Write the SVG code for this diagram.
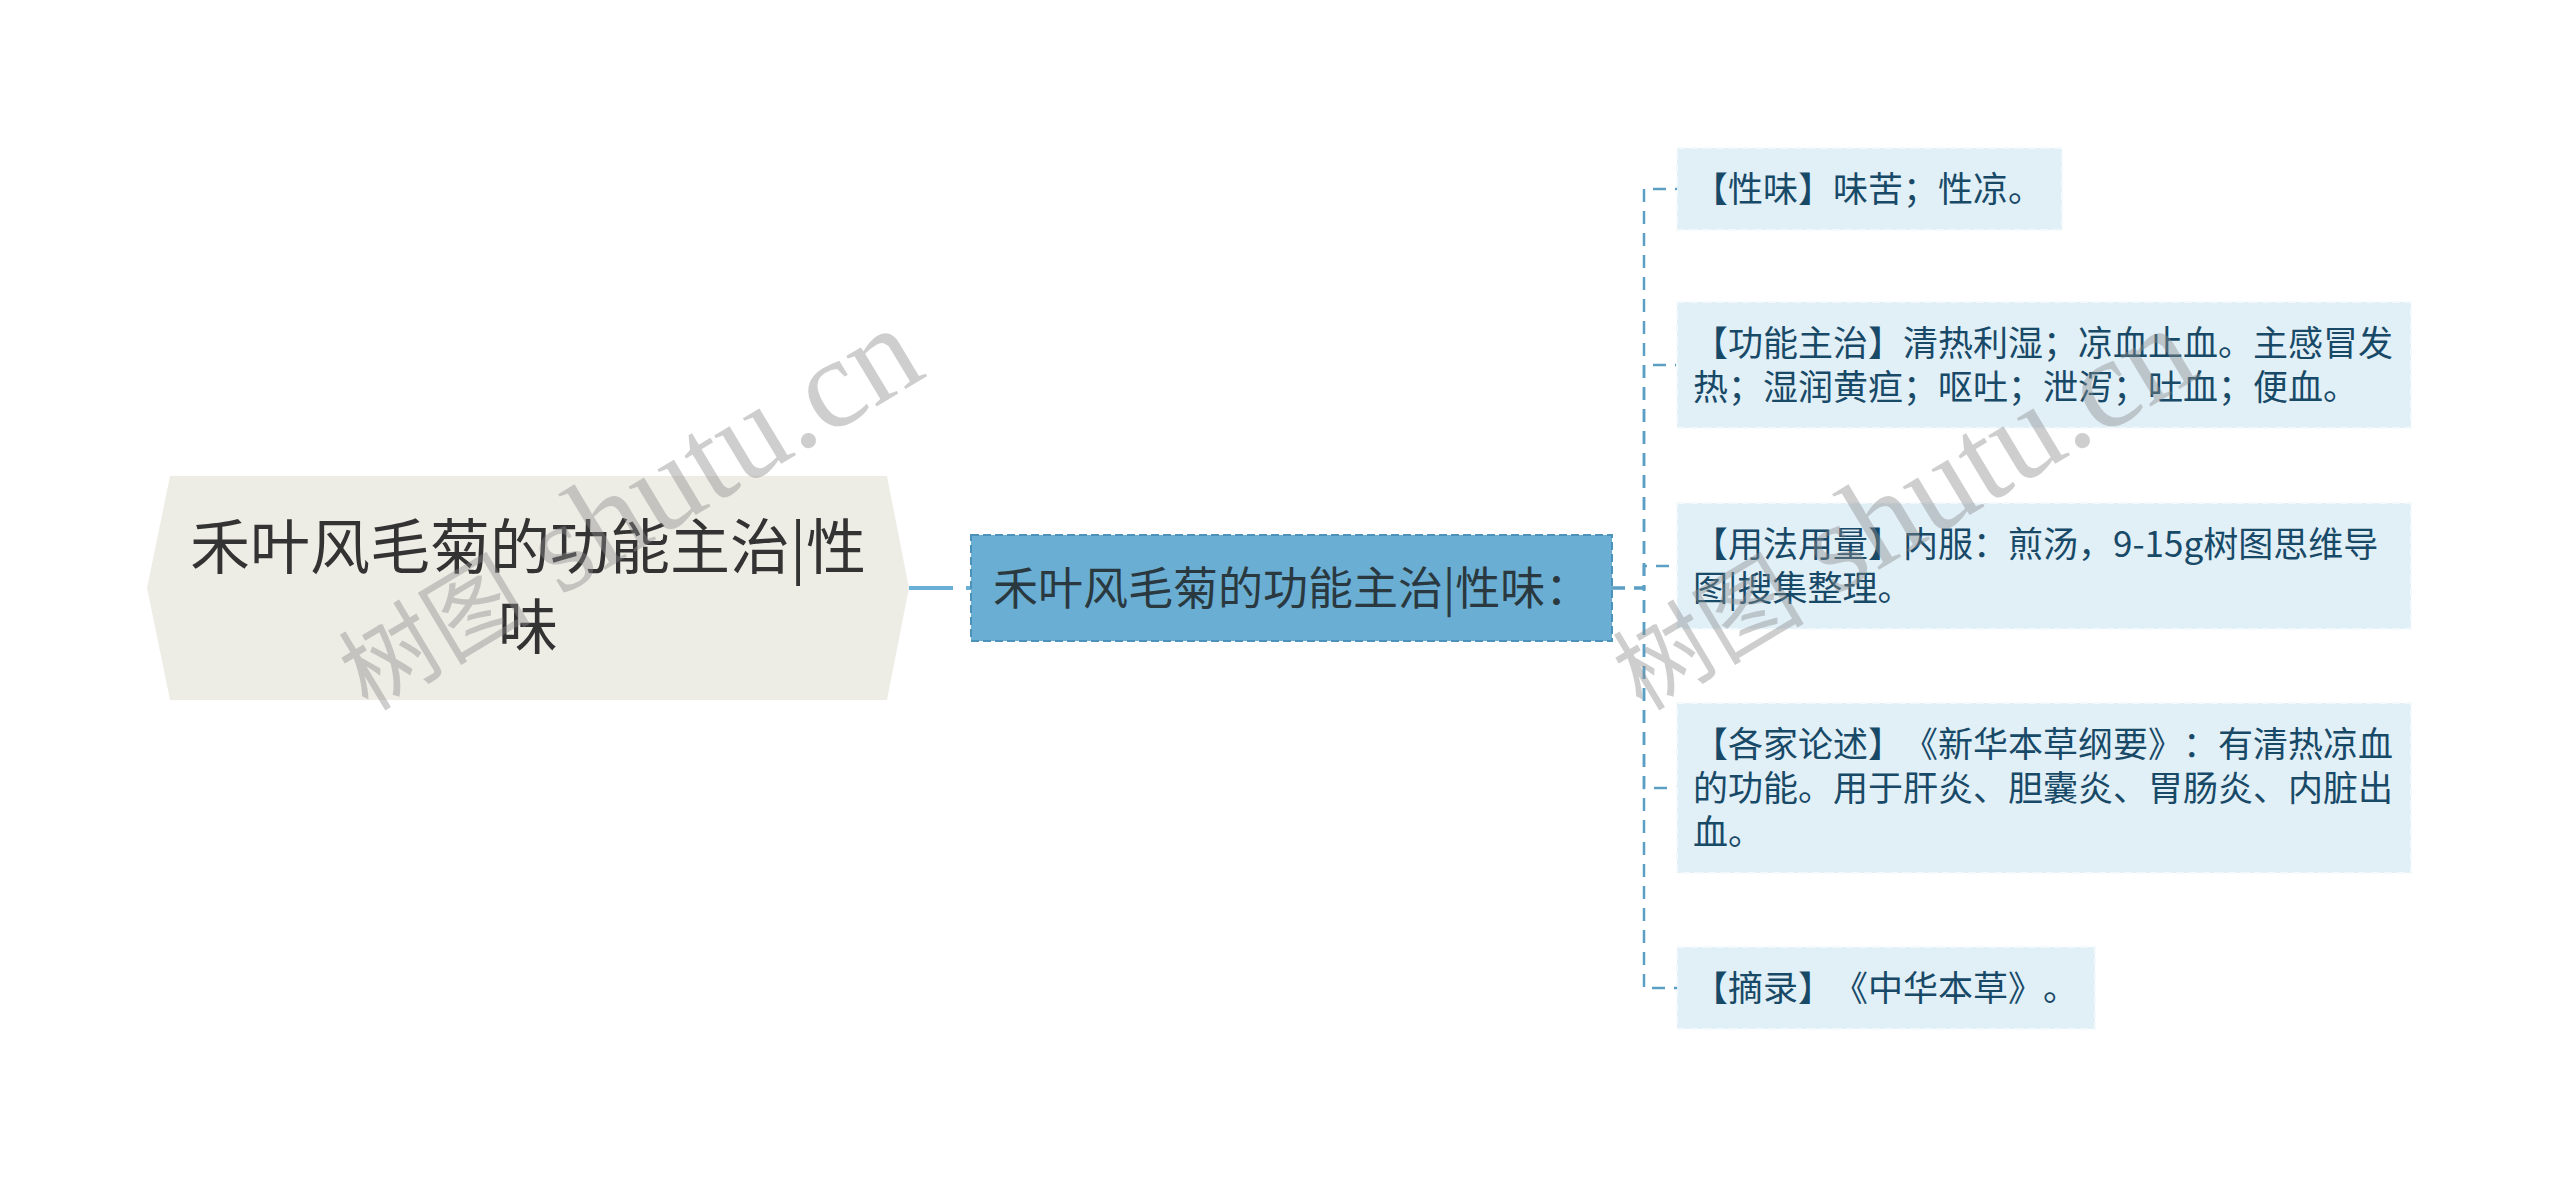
<svg xmlns="http://www.w3.org/2000/svg" width="2560" height="1177" viewBox="0 0 2560 1177">
<style>
.root-text{font-family:"Noto Sans CJK SC","Noto Sans",sans-serif;font-size:60px;fill:#333333;text-anchor:middle}
.mid-text{font-family:"Noto Sans CJK SC","Noto Sans",sans-serif;font-size:45px;fill:#2a3940;text-spacing-trim:space-all}
.leaf-box{fill:#e1eff7;stroke:#f4f9fc;stroke-width:2;stroke-dasharray:8 5}
.leaf-text{font-family:"Noto Sans CJK SC","Noto Sans",sans-serif;font-size:35px;fill:#184a67;text-spacing-trim:space-all}
.link{fill:none;stroke:#5c9fc4;stroke-width:2.5;stroke-dasharray:13 9}
.wm{font-family:"Liberation Serif","Noto Sans CJK SC",serif;fill:#8a8a8a;fill-opacity:0.42}
.wm-cjk{font-size:96px}
.wm-lat{font-size:128px}
</style>
<rect width="2560" height="1177" fill="#ffffff"/>
<g id="connectors">
<line x1="909" y1="588" x2="971" y2="588" stroke="#6aafd6" stroke-width="4" stroke-dasharray="44 13"/>
<path class="link" d="M1612,588 H1644 V189 H1677"/>
<path class="link" d="M1612,588 H1644 V365 H1677"/>
<path class="link" d="M1612,588 H1644 V566 H1677"/>
<path class="link" d="M1612,588 H1644 V788 H1677"/>
<path class="link" d="M1612,588 H1644 V988 H1677"/>
</g>
<g id="root">
<polygon points="147,588 170,476 887,476 909,588 887,700 170,700" fill="#eeede5"/>
<text class="root-text" x="528" y="569">禾叶风毛菊的功能主治|性</text>
<text class="root-text" x="528" y="649">味</text>
</g>
<g id="main">
<rect x="971" y="535" width="641" height="106" fill="#6aaed3" stroke="#4d92ba" stroke-width="2" stroke-dasharray="8 4"/>
<text class="mid-text" x="993" y="605">禾叶风毛菊的功能主治|性味：</text>
</g>
<g id="leaf1">
<rect class="leaf-box" x="1677" y="148" width="385" height="82"/>
<text class="leaf-text" x="1693" y="202">【性味】味苦；性凉。</text>
</g>
<g id="leaf2">
<rect class="leaf-box" x="1677" y="302" width="734" height="126"/>
<text class="leaf-text" x="1693" y="356">【功能主治】清热利湿；凉血止血。主感冒发</text>
<text class="leaf-text" x="1693" y="400">热；湿润黄疸；呕吐；泄泻；吐血；便血。</text>
</g>
<g id="leaf3">
<rect class="leaf-box" x="1677" y="503" width="734" height="126"/>
<text class="leaf-text" x="1693" y="557">【用法用量】内服：煎汤，9-15g树图思维导</text>
<text class="leaf-text" x="1693" y="601">图|搜集整理。</text>
</g>
<g id="leaf4">
<rect class="leaf-box" x="1677" y="703" width="734" height="170"/>
<text class="leaf-text" x="1693" y="757">【各家论述】《新华本草纲要》：有清热凉血</text>
<text class="leaf-text" x="1693" y="801">的功能。用于肝炎、胆囊炎、胃肠炎、内脏出</text>
<text class="leaf-text" x="1693" y="845">血。</text>
</g>
<g id="leaf5">
<rect class="leaf-box" x="1677" y="947" width="418" height="82"/>
<text class="leaf-text" x="1693" y="1001">【摘录】《中华本草》。</text>
</g>
<g id="watermark">
<text class="wm" transform="translate(368,712) rotate(-31)"><tspan class="wm-cjk">树图</tspan><tspan class="wm-lat"> shutu.cn</tspan></text>
<text class="wm" transform="translate(1642,712) rotate(-31)"><tspan class="wm-cjk">树图</tspan><tspan class="wm-lat"> shutu.cn</tspan></text>
</g>
</svg>
